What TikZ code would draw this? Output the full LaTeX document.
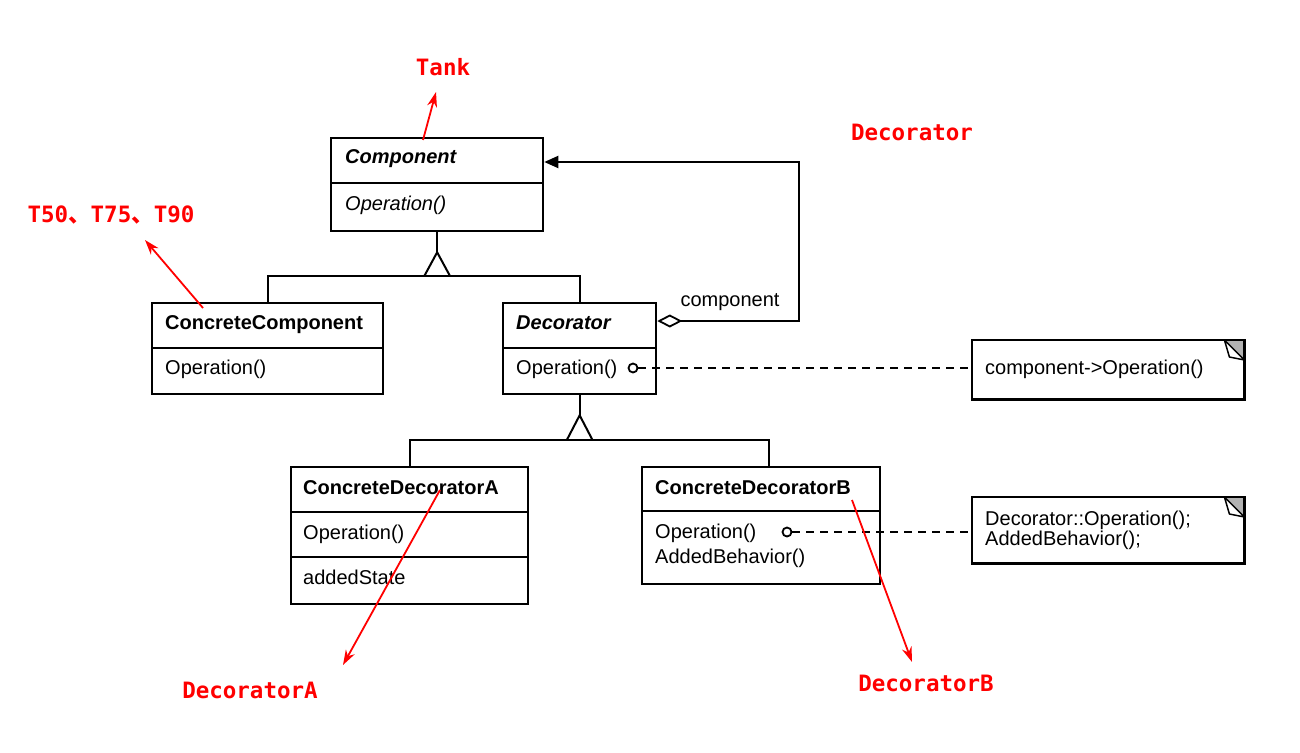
\documentclass[tikz,border=0pt]{standalone}
\usepackage{fontspec}
\setmainfont{Liberation Sans}
\newfontfamily\redfont{DejaVu Sans Mono}
\newfontfamily\cjk{Noto Sans CJK SC}
\usetikzlibrary{arrows.meta,calc}
\begin{document}
\begin{tikzpicture}[x=1pt,y=-1pt,
  umlbox/.style={draw, line width=2.3pt, anchor=north west, inner sep=0pt, fill=white},
  divider/.style={line width=2.1pt},
  umltext/.style={anchor=west, inner sep=0pt, text height=14pt, text depth=4pt, font=\fontsize{20}{21}\selectfont},
  umlname/.style={umltext, font=\fontsize{20}{21}\selectfont\bfseries},
  umlabs/.style={umltext, font=\fontsize{20}{21}\selectfont\bfseries\itshape},
  umlital/.style={umltext, font=\fontsize{20}{21}\selectfont\itshape},
  conn/.style={line width=2pt},
  dashconn/.style={line width=2pt, dash pattern=on 8pt off 6pt},
  knob/.style={circle, draw, line width=1.8pt, minimum size=9pt, inner sep=0pt, fill=white},
  notebox/.style={anchor=north west, inner sep=0pt},
  redlabel/.style={text=red, inner sep=0pt, font=\fontsize{22.5}{24}\selectfont\redfont\bfseries},
  redarrow/.style={draw=red, line width=1.8pt, -{Stealth[length=15pt,width=10pt]}}
]
\useasboundingbox (0,0) rectangle (1300,752);

% ---------- Component ----------
\node[umlbox, minimum width=212pt, minimum height=93pt] (comp) at (330,137) {};
\draw[divider] ([yshift=-46pt]comp.north west) -- ([yshift=-46pt]comp.north east);
\node[umlabs] (compname) at (345,158) {Component};
\node[umlital] (compop) at (345,205) {Operation()};

% ---------- ConcreteComponent ----------
\node[umlbox, minimum width=231pt, minimum height=91pt] (cc) at (151,302) {};
\draw[divider] ([yshift=-46pt]cc.north west) -- ([yshift=-46pt]cc.north east);
\node[umlname] (ccname) at (165,324) {ConcreteComponent};
\node[umltext] (ccop) at (165,369) {Operation()};

% ---------- Decorator ----------
\node[umlbox, minimum width=153pt, minimum height=91pt] (dec) at (502,302) {};
\draw[divider] ([yshift=-46pt]dec.north west) -- ([yshift=-46pt]dec.north east);
\node[umlabs] (decname) at (516,324) {Decorator};
\node[umltext] (decop) at (516,369) {Operation()};

% ---------- ConcreteDecoratorA ----------
\node[umlbox, minimum width=237pt, minimum height=137pt] (cda) at (290,466) {};
\draw[divider] ([yshift=-46pt]cda.north west) -- ([yshift=-46pt]cda.north east);
\draw[divider] ([yshift=-91pt]cda.north west) -- ([yshift=-91pt]cda.north east);
\node[umlname] (cdaname) at (303,489) {ConcreteDecoratorA};
\node[umltext] (cdaop) at (303,534) {Operation()};
\node[umltext] (cdastate) at (303,579) {addedState};

% ---------- ConcreteDecoratorB ----------
\node[umlbox, minimum width=238pt, minimum height=117pt] (cdb) at (641,466) {};
\draw[divider] ([yshift=-45pt]cdb.north west) -- ([yshift=-45pt]cdb.north east);
\node[umlname] (cdbname) at (655,489) {ConcreteDecoratorB};
\node[umltext] (cdbop) at (655,533) {Operation()};
\node[umltext] (cdbadd) at (655,558) {AddedBehavior()};

% ---------- Notes ----------
\node[notebox, minimum width=272pt, minimum height=59pt] (note1) at (972,340) {};
\node[notebox, minimum width=272pt, minimum height=66pt] (note2) at (972,497) {};
\foreach \n in {note1,note2}{
  \fill[gray!60] ([xshift=-20pt]\n.north east) -- (\n.north east) -- ([yshift=-20pt]\n.north east) -- cycle;
  \draw[line width=2.2pt] (\n.north west) rectangle (\n.south east);
  \draw[line width=1.5pt, fill=white, line join=round] ([xshift=-20pt]\n.north east) -- ([xshift=-15pt,yshift=-17pt]\n.north east) -- ([yshift=-20pt]\n.north east) -- cycle;
}
\node[umltext] (note1text) at (985,369) {component{-}{>}Operation()};
\node[anchor=west, inner sep=0pt, align=left, font=\fontsize{20}{20}\selectfont] (note2text) at (985,530) {Decorator::Operation();\\AddedBehavior();};

% ---------- Generalization: Component ----------
\coordinate (g1a) at ([yshift=-20pt]comp.south);
\coordinate (g1b) at ([yshift=-44pt]comp.south);
\draw[conn] (comp.south) -- (g1a);
\draw[conn, line join=miter] ([xshift=-13pt]g1b) -- (g1a) -- ([xshift=13pt]g1b);
\draw[conn] (cc.north) |- (g1b) -| (dec.north);

% ---------- Generalization: Decorator ----------
\coordinate (g2a) at ([yshift=-20pt]dec.south);
\coordinate (g2b) at ([yshift=-45pt]dec.south);
\draw[conn] (dec.south) -- (g2a);
\draw[conn, line join=miter] ([xshift=-13pt]g2b) -- (g2a) -- ([xshift=13pt]g2b);
\coordinate (cdbtop) at ([xshift=8pt]cdb.north);
\draw[conn] (cda.north) |- (g2b) -| (cdbtop);

% ---------- Aggregation ----------
\coordinate (aggs) at ([yshift=-19pt]dec.north east);
\coordinate (aggb) at (799,321);
\coordinate (aggt) at (799,162);
\coordinate (agge) at ([yshift=-25pt]comp.north east);
\draw[conn, {Diamond[open, length=25pt, width=13pt, line width=1.8pt]}-{Triangle[length=14pt, width=12pt]}] (aggs) -- (aggb) -- (aggt) -- (agge);
\node[inner sep=0pt, font=\fontsize{20}{21}\selectfont] (agglabel) at (730,302) {component};

% ---------- Implementation notes links ----------
\node[knob] (k1) at (633,368) {};
\node[knob] (k2) at (787,532) {};
\draw[dashconn] (k1.east) -- (k1.east -| note1.west);
\draw[dashconn] (k2.east) -- (k2.east -| note2.west);

% ---------- Red annotations ----------
\node[redlabel] (tank) at (443,67) {Tank};
\node[redlabel] (tseries) at (111,215) {T50{\cjk\bfseries 、}T75{\cjk\bfseries 、}T90};
\node[redlabel] (declab) at (912,132) {Decorator};
\node[redlabel] (decA) at (250,690) {DecoratorA};
\node[redlabel] (decB) at (926,683) {DecoratorB};

\coordinate (tanktail) at (423,140);
\coordinate (tanktip) at (436,92);
\coordinate (ttail) at (203,308);
\coordinate (ttip) at (145,240);
\coordinate (atail) at (440,490);
\coordinate (atip) at (343,665);
\coordinate (btail) at (852,500);
\coordinate (btip) at (912,662);
\draw[redarrow] (tanktail) -- (tanktip);
\draw[redarrow] (ttail) -- (ttip);
\draw[redarrow] (atail) -- (atip);
\draw[redarrow] (btail) -- (btip);
\end{tikzpicture}
\end{document}
